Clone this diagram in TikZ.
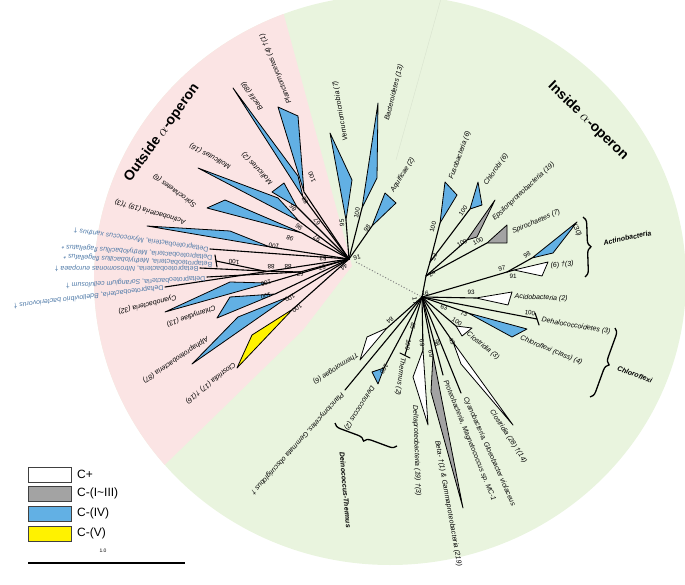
\documentclass[tikz,border=0pt]{standalone}
\usepackage{fontspec}
\setmainfont{Liberation Sans}
\usetikzlibrary{decorations.pathreplacing}
\definecolor{bgpink}{HTML}{FBE4E4}
\definecolor{bggreen}{HTML}{E9F4DE}
\definecolor{cblue}{HTML}{62B0E4}
\definecolor{cgrey}{HTML}{A3A3A3}
\definecolor{cyellow}{HTML}{FFF200}
\definecolor{sptext}{HTML}{4F7AA8}
\tikzset{
 br/.style={line width=1.1pt, black, line cap=round},
 clade/.style={draw=black, line width=0.8pt, line join=round},
 cplus/.style={clade, fill=white},
 cgr/.style={clade, fill=cgrey},
 cbl/.style={clade, fill=cblue},
 cyl/.style={clade, fill=cyellow},
 lab/.style={font=\fontsize{7}{8}\selectfont\itshape, inner sep=0.5pt, anchor=west},
 splab/.style={font=\fontsize{7}{8}\selectfont, inner sep=0.5pt, anchor=west, text=sptext},
 bs/.style={font=\fontsize{6.3}{6.3}\selectfont, inner sep=0pt},
 grp/.style={font=\fontsize{7}{8}\selectfont\bfseries\itshape, inner sep=0.5pt, anchor=west},
 big/.style={font=\fontsize{14}{16}\selectfont\bfseries, inner sep=0pt},
 brc/.style={decorate, decoration={brace, amplitude=7pt}, line width=1.3pt},
 legbox/.style={draw=black!75, line width=1pt},
 leglab/.style={font=\fontsize{12}{14}\selectfont, anchor=west, inner sep=0pt},
}
\begin{document}
\begin{tikzpicture}[x=1pt,y=-1pt]
\useasboundingbox (0,0) rectangle (685,585);
% backgrounds
\fill[bggreen] (390,280) ellipse [x radius=296pt, y radius=285pt];
\begin{scope}
\clip (390,280) ellipse [x radius=296pt, y radius=285pt];
\fill[bgpink] (352,266) -- (215,-239) -- (-300,-239) -- (-300,700) -- (-20,645) -- (180,450) -- (303,330) -- cycle;
\draw[bggreen!80!black, line width=0.4pt, opacity=0.35] (442,-5) -- (396,160);
\end{scope}

\coordinate (O) at (349,259);
\coordinate (I) at (422,297);
\coordinate (dotS) at (356,262);
\draw[gray, dotted, line width=1pt] (dotS) -- (I);

% ---------- outer tree ----------
\coordinate (plA) at (304,192);
\coordinate (baA) at (303,197);
\coordinate (m2A) at (297,207);
\coordinate (m16A) at (299,221);
\coordinate (spA) at (302,233);
\coordinate (acA) at (270,247);
\coordinate (mxT) at (210,249);
\coordinate (meT) at (216,261);
\coordinate (nitT) at (200,268);
\coordinate (soT) at (207,277);
\coordinate (bdT) at (165,287);
\coordinate (nM) at (264,271);
\coordinate (nS) at (300,272);
\coordinate (cyA) at (268,283);
\coordinate (chA) at (275,294);
\coordinate (alA) at (288,297);
\coordinate (clA) at (293,309);
\coordinate (veA) at (346,220);
\coordinate (bcA) at (362,208);
\coordinate (aqA) at (372,226);

\foreach \p in {plA,baA,m2A,m16A,spA,acA,mxT,nS,bdT,cyA,chA,alA,clA,veA,bcA,aqA}
  \draw[br] (O) -- (\p);
\draw[br] (meT) -- (nM);
\draw[br] (nitT) -- (nM);
\draw[br] (nM) -- (nS);
\draw[br] (soT) -- (nS);
\draw[br] (215,255) -- (217,267);

\filldraw[cbl] (278,107) -- (298,116) -- (plA) -- cycle;
\filldraw[cbl] (233,88) -- (298,176) -- (baA) -- cycle;
\filldraw[cbl] (272,192) -- (284,183) -- (m2A) -- cycle;
\filldraw[cbl] (198,168) -- (278,198) -- (m16A) -- cycle;
\filldraw[cbl] (207,208) -- (225,200) -- (spA) -- cycle;
\filldraw[cbl] (147,226) -- (230,231) -- (acA) -- cycle;
\filldraw[cbl] (165,312) -- (230,282) -- (cyA) -- cycle;
\filldraw[cbl] (217,318) -- (230,297) -- (chA) -- cycle;
\filldraw[cbl] (192,364) -- (238,317) -- (alA) -- cycle;
\filldraw[cyl] (237,368) -- (252,335) -- (clA) -- cycle;
\filldraw[cbl] (330,133) -- (352,180) -- (veA) -- cycle;
\filldraw[cbl] (378,103) -- (377,178) -- (bcA) -- cycle;
\filldraw[cbl] (385,193) -- (396,203) -- (aqA) -- cycle;

% outer labels
\node[lab, rotate=112] (lPl) at (290,104) {Planctomycetes (4) †(1)};
\node[lab, rotate=125] (lBa) at (262,110) {Bacilli (89)};
\node[lab, rotate=133] (lM2) at (272,184) {Mollicutes (2)};
\node[lab, rotate=152] (lM16) at (231,167) {Mollicutes (16)};
\node[lab, rotate=144] (lSp6) at (196,206) {Spirochaetes (6)};
\node[lab, rotate=164] (lAc19) at (186,222) {Actinobacteria (19) †(3)};
\node[splab, rotate=172] (lMx) at (209,249) {Deltaproteobacteria, \textit{Myxococcus xanthus} †};
\node[splab, rotate=176] (lMd) at (213,257) {Deltaproteobacteria, \textit{Methylobacillus flagellatus} *};
\node[splab, rotate=177] (lMb) at (213,264) {Betaproteobacteria, \textit{Methylobacillus flagellatus} *};
\node[splab, rotate=180] (lNi) at (199,268) {Betaproteobacteria, \textit{Nitrosomonas europaea} †};
\node[splab, rotate=183] (lSo) at (206,278) {Deltaproteobacteria, \textit{Sorangium cellulosum} †};
\node[splab, rotate=187] (lBd) at (164,287) {Deltaproteobacteria, \textit{Bdellovibrio bacteriovorus} †};
\node[lab, rotate=194] (lCy) at (177,297) {Cyanobacteria (32)};
\node[lab, rotate=200] (lCh) at (216,307) {Chlamydiae (13)};
\node[lab, rotate=214] (lAl) at (208,338) {Alphaproteobacteria (87)};
\node[lab, rotate=219] (lCl17) at (235,363) {Clostridia (17) †(16)};
\node[lab, rotate=100] (lVe) at (346,142) {Verrucomicrobia (7)};
\node[lab, rotate=76] (lBc) at (387,121) {Bacteroidetes (13)};
\node[lab, rotate=58] (lAq) at (392,192) {Aquificae (2)};

% ---------- inner tree ----------
\coordinate (nA) at (430,262);
\coordinate (nB) at (426,276);
\coordinate (fuA) at (440,223);
\coordinate (chlA) at (470,209);
\coordinate (epA) at (467,240);
\coordinate (sp7A) at (487,243);
\coordinate (nAc) at (507,272);
\coordinate (a30A) at (532,258);
\coordinate (a6A) at (514,270);
\coordinate (acdA) at (476,298);
\coordinate (dhT) at (537,319);
\coordinate (cfA) at (468,313);
\coordinate (c3A) at (456,326);
\coordinate (c28A) at (453,342);
\coordinate (glT) at (461,393);
\coordinate (mgT) at (443,375);
\coordinate (bgA) at (433,355);
\coordinate (dlA) at (423,350);
\coordinate (thT) at (405,355);
\coordinate (dnA) at (384,368);
\coordinate (gmT) at (345,390);
\coordinate (ttA) at (387,328);

\draw[br] (I) -- (nB);
\draw[br] (nB) -- (nA);
\draw[br] (nA) -- (fuA);
\draw[br] (nA) -- (chlA);
\draw[br] (nB) -- (epA);
\draw[br] (nB) -- (sp7A);
\draw[br] (I) -- (nAc);
\draw[br] (nAc) -- (a30A);
\draw[br] (nAc) -- (a6A);
\foreach \p in {acdA,dhT,cfA,c3A,c28A,glT,mgT,bgA,dlA,thT,dnA,gmT,ttA}
  \draw[br] (I) -- (\p);
\draw[br] (535,313) -- (539,325);
\draw[br] (400,353) -- (410,358);

\filldraw[cbl] (445,182) -- (457,195) -- (fuA) -- cycle;
\filldraw[cbl] (478,182) -- (482,205) -- (chlA) -- cycle;
\filldraw[cgr] (495,200) -- (477,237) -- (epA) -- cycle;
\filldraw[cgr] (507,225) -- (507,243) -- (sp7A) -- cycle;
\filldraw[cbl] (577,222) -- (553,253) -- (a30A) -- cycle;
\filldraw[cplus] (548,262) -- (542,276) -- (a6A) -- cycle;
\filldraw[cplus] (512,292) -- (508,305) -- (acdA) -- cycle;
\filldraw[cbl] (527,329) -- (512,337) -- (cfA) -- cycle;
\filldraw[cplus] (472,328) -- (462,336) -- (c3A) -- cycle;
\filldraw[cplus] (c28A) -- (513,425) -- (461,364) -- cycle;
\filldraw[cgr] (bgA) -- (463,508) -- (431,392) -- cycle;
\filldraw[cplus] (dlA) -- (428,425) -- (413,377) -- cycle;
\filldraw[cbl] (dnA) -- (372,372) -- (378,384) -- cycle;
\filldraw[cplus] (ttA) -- (367,337) -- (360,360) -- cycle;

% inner labels
\node[lab, rotate=70] (lFu) at (451,180) {Fusobacteria (6)};
\node[lab, rotate=54] (lChl) at (485,185) {Chlorobi (6)};
\node[lab, rotate=43] (lEp) at (493,220) {Epsilonproteobacteria (19)};
\node[lab, rotate=23] (lSp7) at (512,232) {Spirochaetes (7)};
\node[lab, rotate=-65] (lA30) at (574,224) {(30)};
\node[lab, rotate=5] (lA6) at (550,266) {(6) †(3)};
\node[lab, rotate=-2] (lAcd) at (514,297) {Acidobacteria (2)};
\node[lab, rotate=-10] (lDh) at (541,320) {Dehalococcoidetes (3)};
\node[lab, rotate=-22] (lCf) at (520,338) {Chloroflexi (class) (4)};
\node[lab, rotate=-39] (lC3) at (467,333) {Clostridia (3)};
\node[lab, rotate=-57] (lC28) at (491,410) {Clostridia (28) †(14)};
\node[lab, rotate=-66] (lGl) at (465,397) {Cyanobacteria, Gloeobacter violaceus};
\node[lab, rotate=-68] (lMg) at (445,380) {Proteobacteria, Magnetococcus sp. MC-1};
\node[lab, rotate=-80] (lBg) at (437,440) {Beta- †(1) \& Gammaproteobacteria (219)};
\node[lab, rotate=-88] (lDl) at (415,405) {Deltaproteobacteria (19) †(3)};
\node[lab, rotate=262] (lTh) at (403,357) {Thermus (2)};
\node[lab, rotate=238] (lDn) at (373,386) {Deinococcus (2)};
\node[lab, rotate=213] (lTt) at (358,354) {Thermotogae (6)};
\node[lab, rotate=228] (lGm) at (343,393) {Planctomycetes, Gemmata obscuriglobus †};

% group braces
\coordinate (brAt) at (583,217);
\coordinate (brAb) at (585,277);
\draw[brc] (brAt) -- (brAb);
\node[grp, rotate=12] (gAc) at (603,243) {Actinobacteria};
\coordinate (brCt) at (615,328);
\coordinate (brCb) at (590,397);
\draw[brc] (brCt) -- (brCb);
\node[grp, rotate=-20] (gCf) at (617,368) {Chloroflexi};
\coordinate (brDr) at (397,446);
\coordinate (brDl) at (335,423);
\draw[brc] (brDr) -- (brDl);
\node[grp, rotate=-85] (gDt) at (342,452) {Deinococcus-Thermus};

% bootstrap values
\foreach \x/\y/\r/\t [count=\i] in {
 312/177/112/100, 305/201/120/88, 293/208/128/86, 317/222/125/67, 299/227/140/96,
 317/238/145/97, 290/238/155/98, 274/246/168/100, 323/259/178/53, 234/262/178/100,
 271/267/180/88, 288/267/180/88, 300/274/190/67, 322/268/200/57, 344/267/215/44,
 266/283/195/100, 266/296/200/100, 290/298/210/100, 297/308/215/100,
 342/223/95/95, 357/213/80/100, 367/228/55/98, 357/257/15/91,
 433/227/75/100, 463/211/55/100, 434/257/70/52, 432/274/40/24, 462/243/30/100,
 478/241/25/100, 527/255/30/98, 502/268/15/97, 513/276/0/91, 425/293/0/16,
 415/301/-80/17, 471/292/0/93, 444/307/-15/63, 464/314/-25/73, 530/313/-8/100,
 457/322/-35/100, 452/341/-60/49, 437/343/-75/98, 431/354/-80/69, 422/343/-85/69,
 390/320/220/84, 413/326/260/85, 408/345/260/100, 384/369/240/100}
 \node[bs, rotate=\r] (bs\i) at (\x,\y) {\t};

% big titles
\node[big, rotate=54] (tOut) at (162,133) {Outside \textmd{$\alpha$}-operon};
\node[big, rotate=-44] (tIn) at (588,121) {Inside \textmd{$\alpha$}-operon};

% legend
\node[legbox, fill=white, minimum width=43pt, minimum height=15pt, inner sep=0pt] (k1) at (49.5,474.5) {};
\node[legbox, fill=cgrey, minimum width=43pt, minimum height=15pt, inner sep=0pt] (k2) at (49.5,493.5) {};
\node[legbox, fill=cblue, minimum width=43pt, minimum height=15pt, inner sep=0pt] (k3) at (49.5,513.5) {};
\node[legbox, fill=cyellow, minimum width=43pt, minimum height=15pt, inner sep=0pt] (k4) at (49.5,533.5) {};
\node[leglab] (t1) at (77,474.5) {C+};
\node[leglab] (t2) at (77,493.5) {C-(I\textasciitilde III)};
\node[leglab] (t3) at (77,513.5) {C-(IV)};
\node[leglab] (t4) at (77,533.5) {C-(V)};
\node[font=\fontsize{5}{5}\selectfont, inner sep=0pt] (sbt) at (103,551) {1.0};
\coordinate (sbL) at (28,563);
\coordinate (sbR) at (185,563);
\draw[line width=1.2pt] (sbL) -- (sbR);
\end{tikzpicture}
\end{document}
